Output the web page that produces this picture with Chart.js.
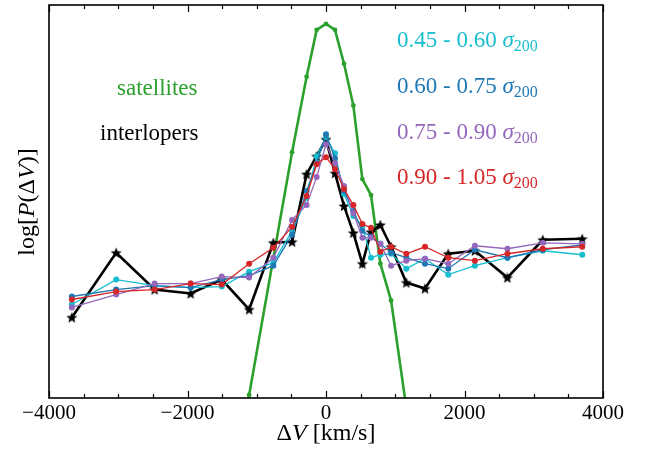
<!DOCTYPE html>
<html>
<head>
<meta charset="utf-8">
<script src="https://cdn.jsdelivr.net/npm/chart.js@4/dist/chart.umd.min.js"></script>
<style>
  html, body { margin: 0; padding: 0; background: #fff; }
  #wrap { width: 648px; height: 452px; }
</style>
</head>
<body>
<div id="wrap"><canvas id="chart" width="648" height="452"></canvas></div>
<script>
// velocity bins (km/s)
const dv = [-3670, -3030, -2475, -1955, -1505, -1110, -760, -490, -280, -135, 0, 130, 260,
            395, 525, 650, 785, 940, 1160, 1430, 1765, 2150, 2620, 3130, 3700];

// log P(dV), arbitrary units
const satellites = [null, null, null, null, -1.62, 0.03, null, 2.47, 3.23, 3.70, 3.76, 3.70, 3.36,
                    2.94, 2.20, 2.04, 1.35, 0.98, -0.10, null, null, null, null, null, null];
const interlopers = [0.81, 1.46, 1.09, 1.05, 1.19, 0.89, 1.56, 1.57, 2.25, 2.43, 2.60, 2.26, 1.93,
                     1.66, 1.35, 1.67, 1.74, 1.52, 1.16, 1.10, 1.45, 1.48, 1.21, 1.59, 1.60];
const s045 = [0.94, 1.19, 1.13, 1.11, 1.12, 1.27, 1.36, 1.68, 2.01, 2.43, 2.62, 2.46, 2.05,
              1.83, 1.73, 1.41, 1.44, 1.45, 1.30, 1.40, 1.24, 1.33, 1.41, 1.48, 1.44];
const s060 = [1.02, 1.09, 1.13, 1.11, 1.19, 1.23, 1.33, 1.64, 2.08, 2.36, 2.65, 2.41, 2.08,
              1.88, 1.68, 1.62, 1.55, 1.46, 1.41, 1.35, 1.30, 1.49, 1.41, 1.49, 1.54];
const s075 = [0.91, 1.04, 1.15, 1.15, 1.22, 1.21, 1.41, 1.79, 1.94, 2.22, 2.55, 2.36, 2.13,
              1.86, 1.61, 1.61, 1.55, 1.33, 1.38, 1.40, 1.35, 1.53, 1.50, 1.56, 1.55];
const s090 = [0.99, 1.07, 1.09, 1.15, 1.14, 1.35, 1.51, 1.72, 2.03, 2.35, 2.42, 2.30, 2.10,
              1.94, 1.75, 1.71, 1.47, 1.52, 1.45, 1.52, 1.41, 1.38, 1.45, 1.50, 1.52];

const xTickLabels = [-4000, -2000, 0, 2000, 4000];

const C_SAT = "#2ca02c", C_045 = "#17becf", C_060 = "#1f77b4", C_075 = "#9467bd", C_090 = "#d62728";
const SERIF = "'Liberation Serif', 'Times New Roman', serif";

function pts(ys) {
	return dv.map((x, i) => ({ x: x, y: ys[i] }));
}

// filled 5-point star like matplotlib's '*'
function starImage(r) {
	const c = document.createElement("canvas");
	const s = Math.ceil(r * 2 + 2);
	c.width = s; c.height = s;
	const g = c.getContext("2d");
	g.beginPath();
	for (let i = 0; i < 10; i++) {
		const a = -Math.PI / 2 + i * Math.PI / 5;
		const rr = i % 2 ? r * 0.45 : r;
		const px = s / 2 + rr * Math.cos(a), py = s / 2 + 0.5 + rr * Math.sin(a);
		if (i === 0) g.moveTo(px, py); else g.lineTo(px, py);
	}
	g.closePath();
	g.fillStyle = "#000";
	g.fill();
	return c;
}

function lineSet(label, ys, color, width, radius, order) {
	return {
		label: label,
		data: pts(ys),
		borderColor: color,
		backgroundColor: color,
		borderWidth: width,
		pointRadius: radius,
		pointBorderWidth: 0,
		pointBackgroundColor: color,
		tension: 0,
		spanGaps: true,
		order: order,
	};
}

const star = starImage(5.8);

const datasets = [
	lineSet("satellites", satellites, C_SAT, 2.6, 2.4, 6),
	Object.assign(lineSet("interlopers", interlopers, "#000", 2.6, 5, 5), { pointStyle: star }),
	lineSet("0.45 - 0.60", s045, C_045, 1.3, 3, 4),
	lineSet("0.60 - 0.75", s060, C_060, 1.3, 3, 3),
	lineSet("0.75 - 0.90", s075, C_075, 1.3, 3, 2),
	lineSet("0.90 - 1.05", s090, C_090, 1.3, 3, 1),
];

// draw a row of text runs (normal / italic / subscript)
function runs(ctx, parts, x, y, color) {
	let cx = x;
	ctx.fillStyle = color;
	ctx.textBaseline = "alphabetic";
	ctx.textAlign = "left";
	for (const p of parts) {
		ctx.font = p.font;
		ctx.fillText(p.t, cx, y + (p.dy || 0));
		cx += ctx.measureText(p.t).width;
	}
	return cx - x;
}
function runsWidth(ctx, parts) {
	let w = 0;
	for (const p of parts) { ctx.font = p.font; w += ctx.measureText(p.t).width; }
	return w;
}

const decor = {
	id: "decor",
	afterDraw(chart) {
		const ctx = chart.ctx;
		const a = chart.chartArea;
		const xs = chart.scales.x;
		ctx.save();
		// frame
		ctx.strokeStyle = "#000";
		ctx.lineWidth = 1.6;
		ctx.strokeRect(a.left, a.top, a.right - a.left, a.bottom - a.top);
		// inward ticks, bottom and top
		ctx.lineWidth = 1.2;
		for (let v = -4000; v <= 4000; v += 500) {
			const px = Math.round(xs.getPixelForValue(v)) + 0.5;
			const len = v % 2000 === 0 ? 7 : 4;
			ctx.beginPath();
			ctx.moveTo(px, a.bottom); ctx.lineTo(px, a.bottom - len);
			ctx.moveTo(px, a.top); ctx.lineTo(px, a.top + len);
			ctx.stroke();
		}

		const n = "23px " + SERIF, it = "italic 23px " + SERIF, sub = "16px " + SERIF;
		runs(ctx, [{ t: "satellites", font: n }], 117, 95, C_SAT);
		runs(ctx, [{ t: "interlopers", font: n }], 100, 140, "#000");

		const bins = [["0.45 - 0.60 ", C_045, 46.5], ["0.60 - 0.75 ", C_060, 92.5],
		              ["0.75 - 0.90 ", C_075, 138.5], ["0.90 - 1.05 ", C_090, 184]];
		for (const b of bins) {
			runs(ctx, [{ t: b[0], font: n }, { t: "\u03c3", font: it }, { t: "200", font: sub, dy: 4 }], 397, b[2], b[1]);
		}

		const tn = "24px " + SERIF, ti = "italic 24px " + SERIF;
		// x axis title
		const xt = [{ t: "\u0394", font: tn }, { t: "V", font: ti }, { t: " [km/s]", font: tn }];
		const xw = runsWidth(ctx, xt);
		runs(ctx, xt, (a.left + a.right) / 2 - xw / 2, 440, "#000");

		// y axis title
		const yt = [{ t: "log[", font: tn }, { t: "P", font: ti }, { t: "(\u0394", font: tn },
		            { t: "V", font: ti }, { t: ")]", font: tn }];
		const yw = runsWidth(ctx, yt);
		ctx.translate(34, 202);
		ctx.rotate(-Math.PI / 2);
		runs(ctx, yt, -yw / 2, 0, "#000");
		ctx.restore();
	},
};

const config = {
	type: "line",
	data: { datasets: datasets },
	options: {
		responsive: false,
		animation: false,
		layout: { padding: { left: 49, right: 45, top: 3, bottom: 0 } },
		plugins: { legend: { display: false }, tooltip: { enabled: false } },
		scales: {
			x: {
				type: "linear",
				min: -4000,
				max: 4000,
				grid: { display: false, drawTicks: false },
				border: { display: false },
				ticks: {
					stepSize: 500,
					autoSkip: false,
					maxRotation: 0,
					padding: 3,
					color: "#000",
					font: { family: SERIF, size: 21 },
					callback: (v) => xTickLabels.includes(v) ? String(v).replace("-", "\u2212") : "",
				},
				afterFit: (s) => { s.height = 54; },
			},
			y: {
				type: "linear",
				display: false,
				min: 0,
				max: 3.95,
			},
		},
	},
	plugins: [decor],
};

const line_graph = new Chart(document.getElementById("chart"), config);
</script>
</body>
</html>
